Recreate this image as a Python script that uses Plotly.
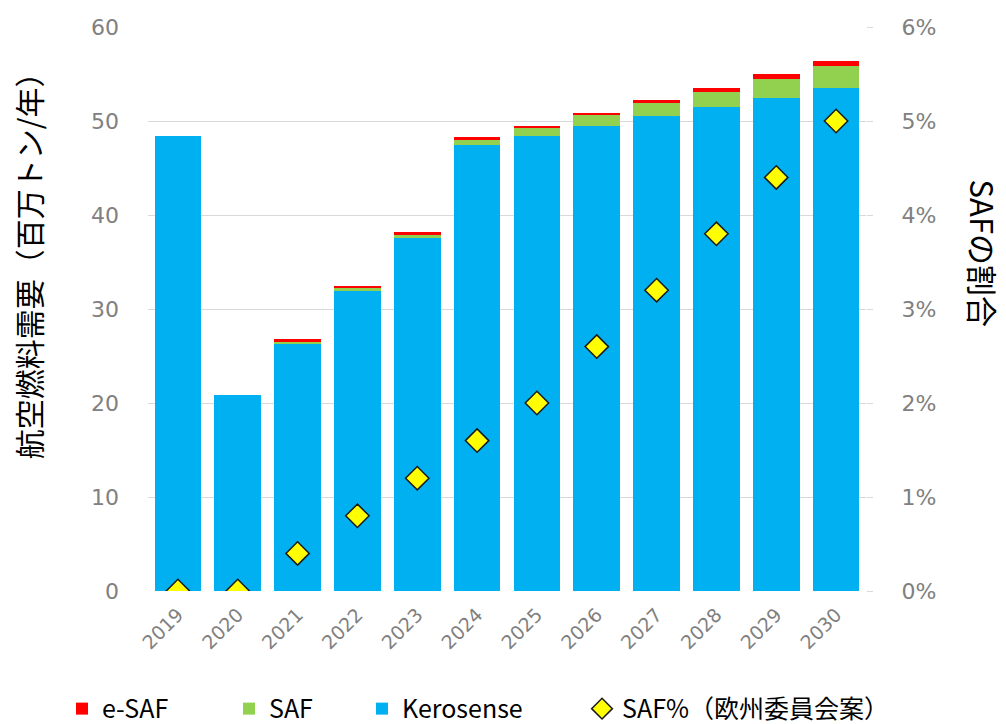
import plotly.graph_objects as go

years = ["2019", "2020", "2021", "2022", "2023", "2024", "2025", "2026", "2027", "2028", "2029", "2030"]
kerosene = [48.4, 20.9, 26.3, 32.0, 37.6, 47.4, 48.4, 49.5, 50.5, 51.5, 52.5, 53.5]
saf = [0, 0, 0.2, 0.2, 0.3, 0.6, 0.85, 1.15, 1.45, 1.55, 2.0, 2.4]
esaf = [0, 0, 0.3, 0.3, 0.3, 0.3, 0.25, 0.25, 0.25, 0.45, 0.5, 0.5]
saf_pct = [0.0, 0.0, 0.004, 0.008, 0.012, 0.016, 0.020, 0.026, 0.032, 0.038, 0.044, 0.050]

CJK = "Noto Sans CJK JP"
NUM = "DejaVu Sans"
GRAY = "#808080"

fig = go.Figure()
fig.add_trace(go.Bar(x=years, y=kerosene, name="Kerosense", marker=dict(color="#00B0F0", line=dict(width=0)), legend="legend3"))
fig.add_trace(go.Bar(x=years, y=saf, name="SAF", marker=dict(color="#92D050", line=dict(width=0)), legend="legend2"))
fig.add_trace(go.Bar(x=years, y=esaf, name="e-SAF", marker=dict(color="#FF0000", line=dict(width=0)), legend="legend"))
fig.add_trace(go.Scatter(x=years, y=saf_pct, name="SAF%（欧州委員会案）", yaxis="y2", mode="markers",
                         marker=dict(symbol="diamond", size=18, color="#FFFF00", line=dict(color="#1a1a1a", width=1.5)),
                         legend="legend4"))

leg_common = dict(orientation="h", xanchor="left", y=-0.209, yanchor="middle",
                  font=dict(family=CJK, size=25, color="black"), bgcolor="rgba(0,0,0,0)")

fig.update_layout(
    width=1006, height=724,
    margin=dict(l=148, r=140, t=27, b=133, autoexpand=False),
    barmode="stack", bargap=0.22,
    plot_bgcolor="white", paper_bgcolor="white",
    xaxis=dict(range=[-0.5, len(years) - 0.5], tickangle=-45, tickfont=dict(family=NUM, size=19, color=GRAY),
               showgrid=False, showline=False, ticks="", automargin=False, ticklabelstandoff=8),
    yaxis=dict(range=[0, 60], dtick=10, tickfont=dict(family=NUM, size=22, color=GRAY),
               showgrid=True, gridcolor="#D9D9D9", gridwidth=1, zeroline=False, showline=False,
               ticks="", ticklabelstandoff=28, automargin=False),
    yaxis2=dict(range=[0, 0.06], dtick=0.01, tickformat=".0%", overlaying="y", side="right",
                tickfont=dict(family=NUM, size=22, color=GRAY), showgrid=False, zeroline=False,
                showline=False, ticks="outside", ticklen=6, tickcolor="#D9D9D9", ticklabelstandoff=24,
                automargin=False),
    legend=dict(x=-0.1198, **leg_common),
    legend2=dict(x=0.1128, **leg_common),
    legend3=dict(x=0.298, **leg_common),
    legend4=dict(x=0.6045, **leg_common),
    showlegend=True,
)

fig.add_annotation(text="航空燃料需要（百万トン/年）", xref="paper", yref="paper", x=-0.167, y=0.59,
                   xanchor="center", yanchor="middle", textangle=-90, showarrow=False,
                   font=dict(family=CJK, size=30, color="black"))
fig.add_annotation(text="SAFの割合", xref="paper", yref="paper", x=1.163, y=0.6,
                   xanchor="center", yanchor="middle", textangle=90, showarrow=False,
                   font=dict(family=CJK, size=31, color="black"))

fig.write_html("out.html")
